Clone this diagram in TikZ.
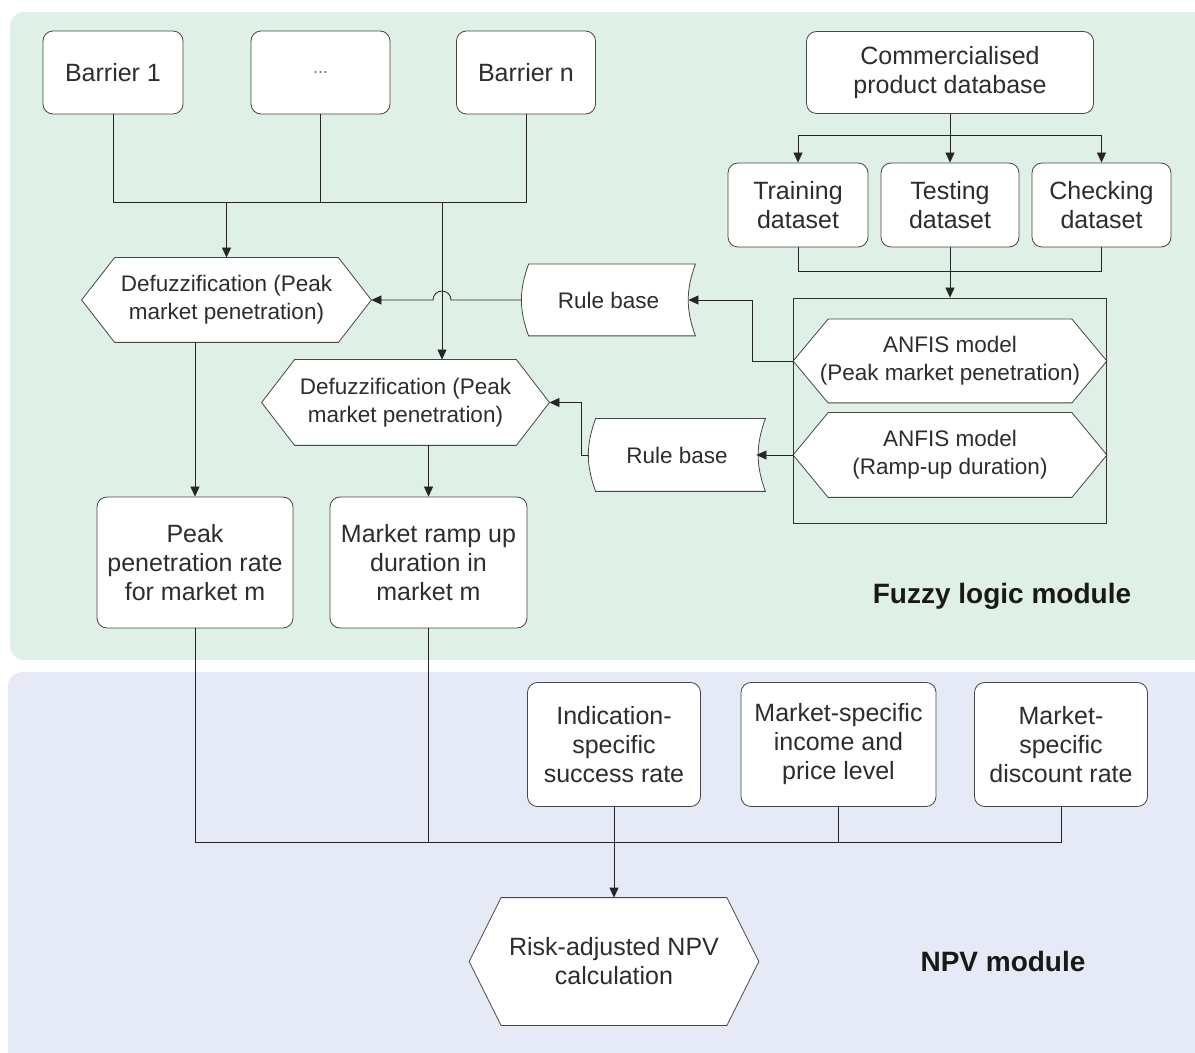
\documentclass[tikz,border=0pt]{standalone}
\usepackage{fontspec}
\setmainfont{Liberation Sans}
\usetikzlibrary{arrows.meta,calc}
\pgfdeclarelayer{bg}
\pgfdeclarelayer{mid}
\pgfsetlayers{bg,mid,main}

\definecolor{fuzzybg}{RGB}{223,240,230}
\definecolor{npvbg}{RGB}{230,233,246}
\definecolor{ink}{RGB}{45,45,45}
\definecolor{edge}{RGB}{70,70,70}

% hexagonal outline behind a node: #1 node name, #2 corner inset
\newcommand\hexframe[2]{%
  \begin{pgfonlayer}{mid}
    \draw[frame] ([xshift=#2]#1.north west) -- ([xshift=-#2]#1.north east)
      -- (#1.east) -- ([xshift=-#2]#1.south east)
      -- ([xshift=#2]#1.south west) -- (#1.west) -- cycle;
  \end{pgfonlayer}}
% stored-data outline behind a node: #1 node name, #2 curve depth
\newcommand\storeframe[2]{%
  \begin{pgfonlayer}{mid}
    \draw[frame] ([xshift=#2]#1.north west) -- (#1.north east)
      to[bend right=20] (#1.south east)
      -- ([xshift=#2]#1.south west)
      to[bend left=20] ([xshift=#2]#1.north west) -- cycle;
  \end{pgfonlayer}}

\begin{document}
\begin{tikzpicture}[x=0.5pt,y=-0.5pt,
  line width=0.7pt,
  txt/.style={font=\fontsize{12.5}{14.5}\selectfont, text=ink, align=center, inner sep=0pt},
  small/.style={font=\fontsize{11.25}{14}\selectfont, text=ink, align=center, inner sep=0pt},
  box/.style 2 args={txt, draw=edge, fill=white, rounded corners=5pt,
    minimum width=#1, minimum height=#2},
  plain/.style 2 args={small, minimum width=#1, minimum height=#2},
  frame/.style={draw=edge, fill=white, line join=miter},
  wire/.style={draw=black!85},
  arrow/.style={wire, -{Triangle[length=5pt,width=4.5pt]}},
  modlabel/.style={font=\fontsize{14}{16}\selectfont\bfseries, text=black!90, inner sep=0pt}
]
\useasboundingbox (0,0) rectangle (1195,1053);

% module panels
\begin{pgfonlayer}{bg}
  \begin{scope}
    \clip (0,0) rectangle (1195,1053);
    \fill[fuzzybg, rounded corners=7pt] (10,12) rectangle (1220,660);
    \fill[npvbg, rounded corners=7pt] (8,672) rectangle (1220,1075);
  \end{scope}
\end{pgfonlayer}

% barriers
\node[box={70pt}{41.5pt}] (b1) at (113,72.5) {Barrier 1};
\node[box={69.5pt}{41.5pt}] (bd) at (320.5,72.5) {\fontsize{9}{10}\selectfont\color{black!55}...};
\node[box={69.5pt}{41.5pt}] (bn) at (526,72.5) {Barrier n};

% data sources
\node[box={143.5pt}{41pt}] (cpd) at (950,72.5) {Commercialised\\product database};
\node[box={70pt}{42pt}] (train) at (798,205) {Training\\dataset};
\node[box={69pt}{42pt}] (test) at (950,205) {Testing\\dataset};
\node[box={69.5pt}{42pt}] (check) at (1101.5,205) {Checking\\dataset};

% ANFIS models
\node[draw=black!80, minimum width=156.5pt, minimum height=112.5pt, inner sep=0pt] (abox) at (950,410.5) {};
\node[plain={156.5pt}{41.5pt}] (anfis1) at (950,361) {ANFIS model\\(Peak market penetration)};
\hexframe{anfis1}{17.5pt}
\node[plain={156.5pt}{42pt}] (anfis2) at (950,455) {ANFIS model\\(Ramp-up duration)};
\hexframe{anfis2}{17.5pt}

% rule bases
\node[plain={86.5pt}{35.5pt}] (rb1) at (608.5,300) {Rule base};
\storeframe{rb1}{3.5pt}
\node[plain={88pt}{36pt}] (rb2) at (677,455) {Rule base};
\storeframe{rb2}{3.5pt}

% defuzzification
\node[plain={144.5pt}{42pt}] (df1) at (226.5,300) {Defuzzification (Peak\\market penetration)};
\hexframe{df1}{16.5pt}
\node[plain={143.5pt}{42.5pt}] (df2) at (405.5,402.5) {Defuzzification (Peak\\market penetration)};
\hexframe{df2}{16.5pt}

% fuzzy outputs
\node[box={98pt}{65.5pt}] (peak) at (195,562.5) {Peak\\penetration rate\\for market m};
\node[box={98.5pt}{65.5pt}] (ramp) at (428.5,562.5) {Market ramp up\\duration in\\market m};

% NPV inputs
\node[box={86.5pt}{62pt}] (ind) at (614,744.5) {Indication-\\specific\\success rate};
\node[box={97.5pt}{62pt}] (inc) at (838.5,744.5) {Market-specific\\income and\\price level};
\node[box={86.5pt}{62pt}] (disc) at (1061,744.5) {Market-\\specific\\discount rate};

% NPV calculation
\node[txt, minimum width=144.5pt, minimum height=63.5pt] (npv) at (614,961.5) {Risk-adjusted NPV\\calculation};
\hexframe{npv}{16pt}

% module titles
\node[modlabel] (fuzzytitle) at (1002,596) {Fuzzy logic module};
\node[modlabel] (npvtitle) at (1003,961) {NPV module};

% bus levels and bends
\coordinate (jb) at (0,202);
\coordinate (vx) at (442,202);
\coordinate (h1) at (0,135);
\coordinate (h2) at (0,271);
\coordinate (h3) at (0,842);
\coordinate (k1) at (752,0);
\coordinate (k2) at (581,0);

% barriers to defuzzification
\draw[wire] (b1.south) |- (bn.south |- jb) -- (bn.south);
\draw[wire] (bd.south) -- (bd.south |- jb);
\draw[arrow] (df1.north |- jb) -- (df1.north);
\draw[arrow] (vx) -- (vx |- df2.north);

% rule bases to defuzzification
\draw[arrow] (rb1.west) -- ([xshift=4.5pt]vx |- rb1.west)
  arc[start angle=0, end angle=180, radius=4.5pt] -- (df1.east);
\draw[arrow] (rb2.west) -- (rb2.west -| k2) |- (df2.east);

% ANFIS to rule bases
\draw[arrow] (anfis1.west) -- (anfis1.west -| k1) |- ([xshift=-3.5pt]rb1.east);
\draw[arrow] (anfis2.west) -- ([xshift=-4.5pt]rb2.east);

% database split
\draw[wire] (cpd.south) -- (cpd.south |- h1);
\draw[wire] (train.north |- h1) -- (check.north |- h1);
\draw[arrow] (train.north |- h1) -- (train.north);
\draw[arrow] (test.north |- h1) -- (test.north);
\draw[arrow] (check.north |- h1) -- (check.north);

% datasets to ANFIS
\draw[wire] (train.south) |- (check.south |- h2) -- (check.south);
\draw[arrow] (test.south) -- (abox.north);

% defuzzification to outputs
\draw[arrow] (peak.north |- df1.south) -- (peak.north);
\draw[arrow] (ramp.north |- df2.south) -- (ramp.north);

% inputs to NPV calculation
\draw[wire] (peak.south) |- (disc.south |- h3) -- (disc.south);
\draw[wire] (ramp.south) -- (ramp.south |- h3);
\draw[wire] (inc.south) -- (inc.south |- h3);
\draw[arrow] (ind.south) -- (npv.north);
\end{tikzpicture}
\end{document}
